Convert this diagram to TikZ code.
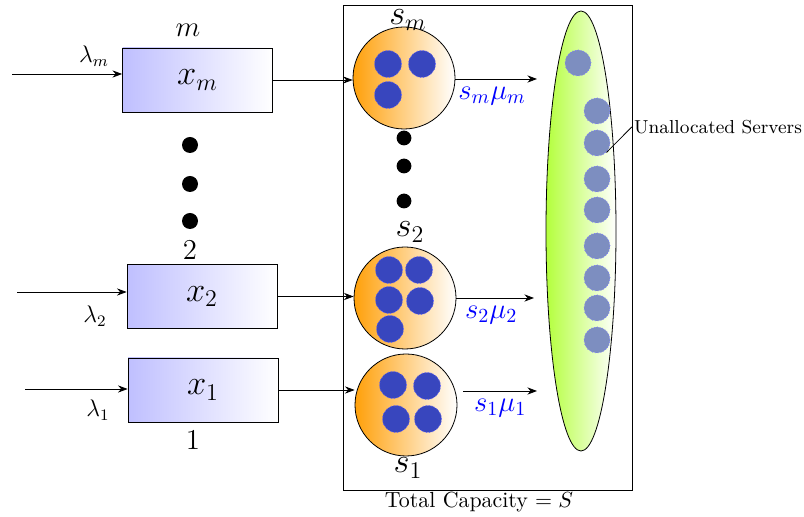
\documentclass[11pt,tikz,border=0pt]{standalone}
\usepackage{amsmath,amssymb}
\usetikzlibrary{arrows.meta, positioning, shapes.geometric}
\definecolor{srvblue}{RGB}{56,70,190}
\definecolor{idleblue}{RGB}{125,142,192}
\definecolor{poolgreen}{RGB}{180,255,60}
\definecolor{poolorange}{RGB}{255,160,10}

\begin{document}
\begin{tikzpicture}[x=0.5pt, y=-0.5pt, >=Stealth,
  queue/.style={draw, left color=blue!25, right color=white,
    minimum width=75pt, minimum height=32pt, inner sep=0pt, font=\LARGE},
  pool/.style={circle, draw, left color=poolorange, right color=white,
    minimum size=51pt, inner sep=0pt},
  server/.style={circle, fill=srvblue, draw=blue!60, densely dotted,
    minimum size=13.5pt, inner sep=0pt},
  idle/.style={circle, fill=idleblue, draw=blue!50, densely dotted,
    minimum size=13pt, inner sep=0pt},
  rate/.style={below, text=blue, font=\Large}
]
  \useasboundingbox (0,0) rectangle (804,517);

  % capacity frame
  \node[draw, minimum width=144.5pt, minimum height=242.5pt, inner sep=0pt]
    (cap) at (487.5,247.5) {};
  \node (captxt) at (479,502) {Total Capacity $= S$};

  % queues
  \node[queue] (qm) at (197.5,80) {$x_m$};
  \node[queue] (qtwo) at (202,296.5) {$x_2$};
  \node[queue] (qone) at (203,390) {$x_1$};
  \node[font=\Large] (idm) at (188,30) {$m$};
  \node[font=\Large] (idtwo) at (190,250) {$2$};
  \node[font=\Large] (idone) at (193,440) {$1$};
  \foreach \y in {145,184,221}
    \fill (190,\y) circle (4pt);

  % arrivals
  \coordinate (lm) at (12,74);
  \coordinate (ltwo) at (17,292);
  \coordinate (lone) at (25,389);
  \draw[->] (lm) -- (qm.west |- lm);
  \draw[->] (ltwo) -- (qtwo.west |- ltwo);
  \draw[->] (lone) -- (qone.west |- lone);
  \node[font=\large] (lamm) at (94,56) {$\lambda_m$};
  \node[font=\large] (lamtwo) at (95,316) {$\lambda_2$};
  \node[font=\large] (lamone) at (98,410) {$\lambda_1$};

  % server pools
  \node[pool] (cm) at (404,78) {};
  \node[pool] (ctwo) at (405,298) {};
  \node[pool] (cone) at (406,405) {};
  \node[font=\LARGE] (sm) at (408,20) {$s_m$};
  \node[font=\LARGE] (stwo) at (410,232) {$s_2$};
  \node[font=\LARGE] (sone) at (408,468) {$s_1$};
  \foreach \y in {138,166,201}
    \fill (404,\y) circle (3.7pt);
  \foreach \p in {(388,64),(422,64),(388,95)}
    \node[server] at \p {};
  \foreach \p in {(389,270),(419,270),(389,300),(420,301),(390,329)}
    \node[server] at \p {};
  \foreach \p in {(393,385),(427,386),(396,419),(428,419)}
    \node[server] at \p {};

  \draw[->] (qm.east) -- (qm.east -| cm.west);
  \draw[->] (qtwo.east) -- (qtwo.east -| ctwo.west);
  \draw[->] (qone.east) -- (qone.east -| cone.west);

  % departures
  \coordinate (om) at (537,79);
  \coordinate (otwo) at (534,298);
  \coordinate (oone) at (537,391);
  \draw[->] (om -| cm.east) -- (om) node[rate, pos=0.45] {$s_m\mu_m$};
  \draw[->] (otwo -| ctwo.east) -- (otwo) node[rate, pos=0.45] {$s_2\mu_2$};
  \draw[->] ([xshift=3pt]oone -| cone.east) -- (oone) node[rate, pos=0.5] {$s_1\mu_1$};

  % unallocated pool
  \node[ellipse, draw, left color=poolgreen, right color=white,
    minimum width=35pt, minimum height=220pt, inner sep=0pt] (pool) at (581,231) {};
  \node[idle] (itop) at (578,63) {};
  \foreach \y [count=\i] in {111,143,179,210,246,278,308,340}
    \node[idle] (i\i) at (597,\y) {};
  \node[font=\fontsize{9.4}{11}\selectfont, inner sep=1pt] (ulab) at (718,127) {Unallocated Servers};
  \draw (ulab.west) -- (i2.south east);
\end{tikzpicture}
\end{document}
